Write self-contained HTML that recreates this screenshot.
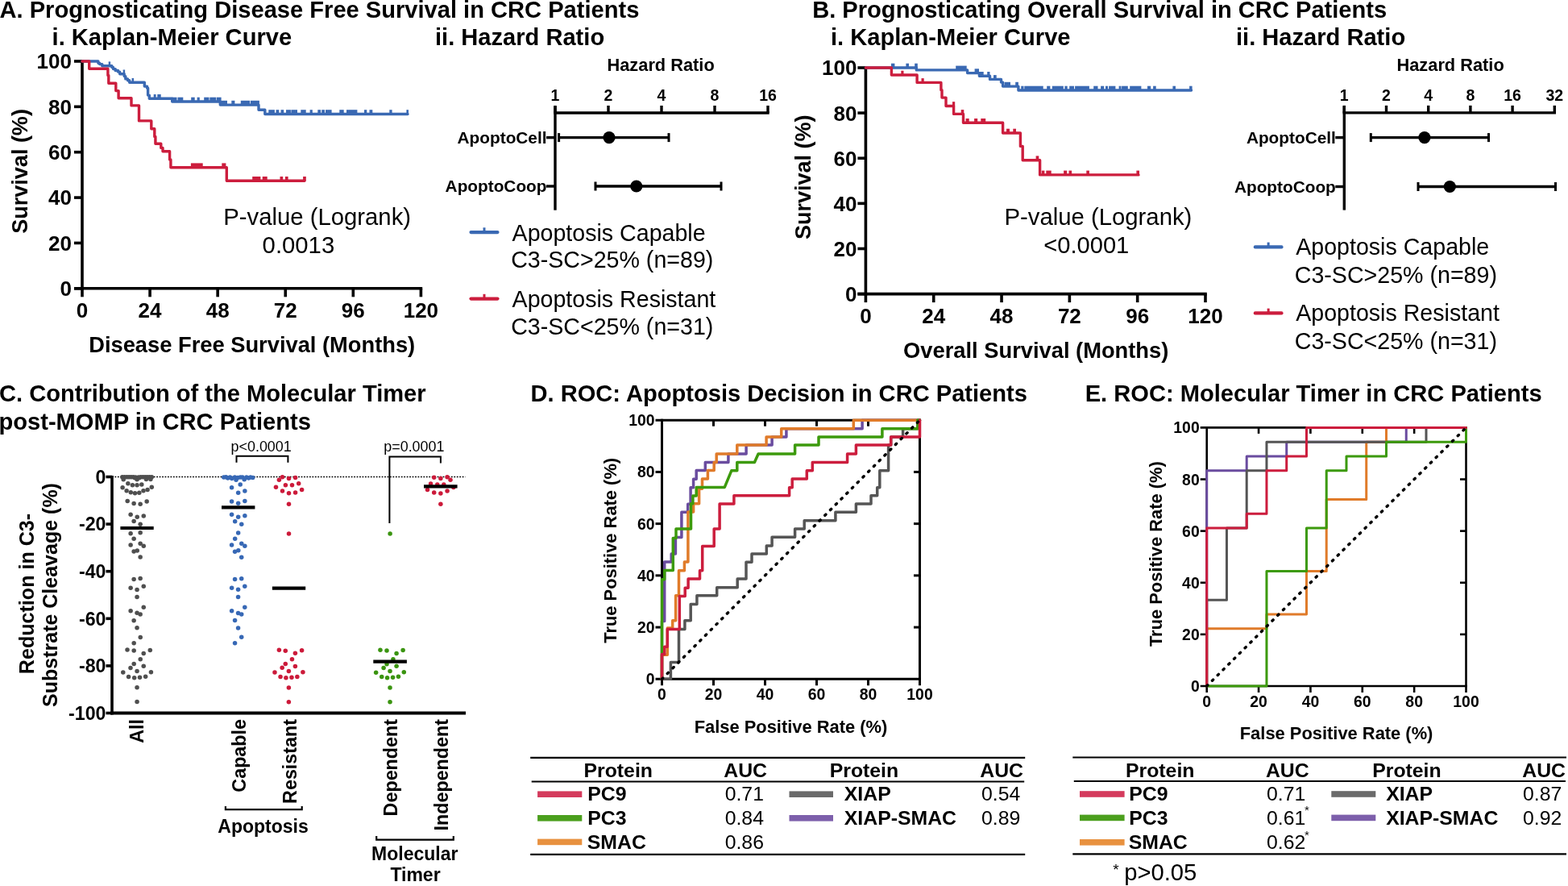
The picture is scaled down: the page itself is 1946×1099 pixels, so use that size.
<!DOCTYPE html>
<html><head><meta charset="utf-8"><title>Figure</title>
<style>html,body{margin:0;padding:0;background:#fff;}svg{display:block;}</style></head>
<body><svg width="1946" height="1099" viewBox="0 0 1946 1099" font-family="'Liberation Sans', Arial, Helvetica, sans-serif">
<rect width="1946" height="1099" fill="#fff"/>
<text x="-0.5" y="21.8" font-size="29.1" font-weight="bold" fill="#000">A. Prognosticating Disease Free Survival in CRC Patients</text>
<text x="64.6" y="56" font-size="29.1" font-weight="bold" fill="#000">i. Kaplan-Meier Curve</text>
<text x="540" y="56" font-size="29.1" font-weight="bold" fill="#000">ii. Hazard Ratio</text>
<text x="1008.2" y="21.8" font-size="29.1" font-weight="bold" fill="#000">B. Prognosticating Overall Survival in CRC Patients</text>
<text x="1031" y="56" font-size="29.1" font-weight="bold" fill="#000">i. Kaplan-Meier Curve</text>
<text x="1534" y="56" font-size="29.1" font-weight="bold" fill="#000">ii. Hazard Ratio</text>
<text x="-1" y="498.1" font-size="29.1" font-weight="bold" fill="#000">C. Contribution of the Molecular Timer</text>
<text x="-1.5" y="533.2" font-size="29.1" font-weight="bold" fill="#000">post-MOMP in CRC Patients</text>
<text x="658.5" y="498" font-size="29.1" font-weight="bold" fill="#000">D. ROC: Apoptosis Decision in CRC Patients</text>
<text x="1346.7" y="498" font-size="29.1" font-weight="bold" fill="#000">E. ROC: Molecular Timer in CRC Patients</text>
<line x1="102" y1="74.8" x2="102" y2="359.6" stroke="#000" stroke-width="3.6" stroke-linecap="butt"/>
<line x1="92" y1="357.8" x2="524.2" y2="357.8" stroke="#000" stroke-width="3.6" stroke-linecap="butt"/>
<line x1="92" y1="357.8" x2="102" y2="357.8" stroke="#000" stroke-width="3.6" stroke-linecap="butt"/>
<text x="89" y="367.2" font-size="26" font-weight="bold" text-anchor="end" fill="#000">0</text>
<line x1="92" y1="301.44" x2="102" y2="301.44" stroke="#000" stroke-width="3.6" stroke-linecap="butt"/>
<text x="89" y="310.84" font-size="26" font-weight="bold" text-anchor="end" fill="#000">20</text>
<line x1="92" y1="245.08" x2="102" y2="245.08" stroke="#000" stroke-width="3.6" stroke-linecap="butt"/>
<text x="89" y="254.48" font-size="26" font-weight="bold" text-anchor="end" fill="#000">40</text>
<line x1="92" y1="188.72" x2="102" y2="188.72" stroke="#000" stroke-width="3.6" stroke-linecap="butt"/>
<text x="89" y="198.12" font-size="26" font-weight="bold" text-anchor="end" fill="#000">60</text>
<line x1="92" y1="132.36" x2="102" y2="132.36" stroke="#000" stroke-width="3.6" stroke-linecap="butt"/>
<text x="89" y="141.76" font-size="26" font-weight="bold" text-anchor="end" fill="#000">80</text>
<line x1="92" y1="76" x2="102" y2="76" stroke="#000" stroke-width="3.6" stroke-linecap="butt"/>
<text x="89" y="85.4" font-size="26" font-weight="bold" text-anchor="end" fill="#000">100</text>
<line x1="102" y1="357.8" x2="102" y2="368.3" stroke="#000" stroke-width="3.6" stroke-linecap="butt"/>
<text x="102" y="393.9" font-size="26" font-weight="bold" text-anchor="middle" fill="#000">0</text>
<line x1="186.08" y1="357.8" x2="186.08" y2="368.3" stroke="#000" stroke-width="3.6" stroke-linecap="butt"/>
<text x="186.08" y="393.9" font-size="26" font-weight="bold" text-anchor="middle" fill="#000">24</text>
<line x1="270.16" y1="357.8" x2="270.16" y2="368.3" stroke="#000" stroke-width="3.6" stroke-linecap="butt"/>
<text x="270.16" y="393.9" font-size="26" font-weight="bold" text-anchor="middle" fill="#000">48</text>
<line x1="354.24" y1="357.8" x2="354.24" y2="368.3" stroke="#000" stroke-width="3.6" stroke-linecap="butt"/>
<text x="354.24" y="393.9" font-size="26" font-weight="bold" text-anchor="middle" fill="#000">72</text>
<line x1="438.32" y1="357.8" x2="438.32" y2="368.3" stroke="#000" stroke-width="3.6" stroke-linecap="butt"/>
<text x="438.32" y="393.9" font-size="26" font-weight="bold" text-anchor="middle" fill="#000">96</text>
<line x1="522.4" y1="357.8" x2="522.4" y2="368.3" stroke="#000" stroke-width="3.6" stroke-linecap="butt"/>
<text x="522.4" y="393.9" font-size="26" font-weight="bold" text-anchor="middle" fill="#000">120</text>
<text transform="translate(34.1 212.4) rotate(-90)" font-size="27" font-weight="bold" text-anchor="middle" fill="#000">Survival (%)</text>
<text x="312.7" y="436.9" font-size="27.3" font-weight="bold" text-anchor="middle" fill="#000">Disease Free Survival (Months)</text>
<polyline points="102,76 121.9,76 121.9,78.2 123.6,78.2 123.6,79.6 126.8,79.6 126.8,81.7 138.9,81.7 138.9,83.4 140.5,83.4 140.5,85.6 143.2,85.6 143.2,87.5 146.5,87.5 146.5,89.1 148.7,89.1 148.7,91.8 154.2,91.8 154.2,94.6 155.8,94.6 155.8,97.9 158.5,97.9 158.5,99.8 160.7,99.8 160.7,102.2 179.3,102.2 179.3,107.1 182.6,107.1 182.6,109.3 183.6,109.3 183.6,118.1 185.3,118.1 185.3,122.3 213.7,122.3 213.7,126 273.3,126 273.3,130.1 321,130.1 321,136.3 328.8,136.3 328.8,141.5 506,141.5" fill="none" stroke="#3a69b3" stroke-width="3.4" stroke-linejoin="round" stroke-linecap="round"/>
<rect x="134.65" y="76.4" width="2.5" height="5.3" fill="#3a69b3"/>
<rect x="152.65" y="86.5" width="2.5" height="5.3" fill="#3a69b3"/>
<rect x="163.55" y="96.9" width="2.5" height="5.3" fill="#3a69b3"/>
<rect x="190.7" y="117" width="2.9" height="5.3" fill="#3a69b3"/>
<rect x="195.3" y="117" width="4.4" height="5.3" fill="#3a69b3"/>
<rect x="213.7" y="120.7" width="5.8" height="5.3" fill="#3a69b3"/>
<rect x="220.5" y="120.7" width="6.8" height="5.3" fill="#3a69b3"/>
<rect x="237.2" y="120.7" width="4.5" height="5.3" fill="#3a69b3"/>
<rect x="244.6" y="120.7" width="3.2" height="5.3" fill="#3a69b3"/>
<rect x="253.2" y="120.7" width="6.3" height="5.3" fill="#3a69b3"/>
<rect x="260.3" y="120.7" width="7.7" height="5.3" fill="#3a69b3"/>
<rect x="268.6" y="120.7" width="6" height="5.3" fill="#3a69b3"/>
<rect x="274.6" y="124.8" width="7.4" height="5.3" fill="#3a69b3"/>
<rect x="287.3" y="124.8" width="4.1" height="5.3" fill="#3a69b3"/>
<rect x="298.8" y="124.8" width="11.2" height="5.3" fill="#3a69b3"/>
<rect x="310.8" y="124.8" width="11.1" height="5.3" fill="#3a69b3"/>
<rect x="333.3" y="136.2" width="7.6" height="5.3" fill="#3a69b3"/>
<rect x="342.5" y="136.2" width="3.8" height="5.3" fill="#3a69b3"/>
<rect x="348.5" y="136.2" width="3.7" height="5.3" fill="#3a69b3"/>
<rect x="355" y="136.2" width="5.9" height="5.3" fill="#3a69b3"/>
<rect x="361.4" y="136.2" width="7.6" height="5.3" fill="#3a69b3"/>
<rect x="373.3" y="136.2" width="6.4" height="5.3" fill="#3a69b3"/>
<rect x="384.6" y="136.2" width="3.2" height="5.3" fill="#3a69b3"/>
<rect x="394.3" y="136.2" width="3.8" height="5.3" fill="#3a69b3"/>
<rect x="399.2" y="136.2" width="3.8" height="5.3" fill="#3a69b3"/>
<rect x="404" y="136.2" width="7.6" height="5.3" fill="#3a69b3"/>
<rect x="421.3" y="136.2" width="5.4" height="5.3" fill="#3a69b3"/>
<rect x="430" y="136.2" width="13.4" height="5.3" fill="#3a69b3"/>
<rect x="452" y="136.2" width="3.3" height="5.3" fill="#3a69b3"/>
<rect x="458.5" y="136.2" width="3.8" height="5.3" fill="#3a69b3"/>
<rect x="483.3" y="136.2" width="3.3" height="5.3" fill="#3a69b3"/>
<rect x="504.4" y="136.2" width="2.6" height="5.3" fill="#3a69b3"/>
<polyline points="102,76 110.7,76 110.7,85.3 133.9,85.3 133.9,93.5 134.8,93.5 134.8,103.3 143.8,103.3 143.8,112.6 147.1,112.6 147.1,121.7 163,121.7 163,130.9 172.5,130.9 172.5,149.9 187.8,149.9 187.8,159.7 191.8,159.7 191.8,169.5 192.9,169.5 192.9,178.3 199.8,178.3 199.8,183.4 202,183.4 202,187.7 210.6,187.7 210.6,198 211.9,198 211.9,207.7 281.3,207.7 281.3,224.3 378,224.3" fill="none" stroke="#cc1d3d" stroke-width="3.4" stroke-linejoin="round" stroke-linecap="round"/>
<rect x="236.9" y="202.4" width="14.8" height="5.3" fill="#cc1d3d"/>
<rect x="275.3" y="202.4" width="5.1" height="5.3" fill="#cc1d3d"/>
<rect x="313.2" y="219" width="10.2" height="5.3" fill="#cc1d3d"/>
<rect x="325.7" y="219" width="6" height="5.3" fill="#cc1d3d"/>
<rect x="347.5" y="219" width="3.7" height="5.3" fill="#cc1d3d"/>
<rect x="353.9" y="219" width="3.7" height="5.3" fill="#cc1d3d"/>
<rect x="376.1" y="219" width="3.7" height="5.3" fill="#cc1d3d"/>
<text x="277.2" y="279.1" font-size="29.3" fill="#000">P-value (Logrank)</text>
<text x="325.6" y="313.8" font-size="29.3" fill="#000">0.0013</text>
<line x1="1074.4" y1="82.8" x2="1074.4" y2="366.4" stroke="#000" stroke-width="3.6" stroke-linecap="butt"/>
<line x1="1064.4" y1="364.6" x2="1497.8" y2="364.6" stroke="#000" stroke-width="3.6" stroke-linecap="butt"/>
<line x1="1064.4" y1="364.6" x2="1074.4" y2="364.6" stroke="#000" stroke-width="3.6" stroke-linecap="butt"/>
<text x="1063.5" y="374" font-size="26" font-weight="bold" text-anchor="end" fill="#000">0</text>
<line x1="1064.4" y1="308.48" x2="1074.4" y2="308.48" stroke="#000" stroke-width="3.6" stroke-linecap="butt"/>
<text x="1063.5" y="317.88" font-size="26" font-weight="bold" text-anchor="end" fill="#000">20</text>
<line x1="1064.4" y1="252.36" x2="1074.4" y2="252.36" stroke="#000" stroke-width="3.6" stroke-linecap="butt"/>
<text x="1063.5" y="261.76" font-size="26" font-weight="bold" text-anchor="end" fill="#000">40</text>
<line x1="1064.4" y1="196.24" x2="1074.4" y2="196.24" stroke="#000" stroke-width="3.6" stroke-linecap="butt"/>
<text x="1063.5" y="205.64" font-size="26" font-weight="bold" text-anchor="end" fill="#000">60</text>
<line x1="1064.4" y1="140.12" x2="1074.4" y2="140.12" stroke="#000" stroke-width="3.6" stroke-linecap="butt"/>
<text x="1063.5" y="149.52" font-size="26" font-weight="bold" text-anchor="end" fill="#000">80</text>
<line x1="1064.4" y1="84" x2="1074.4" y2="84" stroke="#000" stroke-width="3.6" stroke-linecap="butt"/>
<text x="1063.5" y="93.4" font-size="26" font-weight="bold" text-anchor="end" fill="#000">100</text>
<line x1="1074.4" y1="364.6" x2="1074.4" y2="375.1" stroke="#000" stroke-width="3.6" stroke-linecap="butt"/>
<text x="1074.4" y="401.2" font-size="26" font-weight="bold" text-anchor="middle" fill="#000">0</text>
<line x1="1158.72" y1="364.6" x2="1158.72" y2="375.1" stroke="#000" stroke-width="3.6" stroke-linecap="butt"/>
<text x="1158.72" y="401.2" font-size="26" font-weight="bold" text-anchor="middle" fill="#000">24</text>
<line x1="1243.04" y1="364.6" x2="1243.04" y2="375.1" stroke="#000" stroke-width="3.6" stroke-linecap="butt"/>
<text x="1243.04" y="401.2" font-size="26" font-weight="bold" text-anchor="middle" fill="#000">48</text>
<line x1="1327.36" y1="364.6" x2="1327.36" y2="375.1" stroke="#000" stroke-width="3.6" stroke-linecap="butt"/>
<text x="1327.36" y="401.2" font-size="26" font-weight="bold" text-anchor="middle" fill="#000">72</text>
<line x1="1411.68" y1="364.6" x2="1411.68" y2="375.1" stroke="#000" stroke-width="3.6" stroke-linecap="butt"/>
<text x="1411.68" y="401.2" font-size="26" font-weight="bold" text-anchor="middle" fill="#000">96</text>
<line x1="1496" y1="364.6" x2="1496" y2="375.1" stroke="#000" stroke-width="3.6" stroke-linecap="butt"/>
<text x="1496" y="401.2" font-size="26" font-weight="bold" text-anchor="middle" fill="#000">120</text>
<text transform="translate(1005.7 219.8) rotate(-90)" font-size="27" font-weight="bold" text-anchor="middle" fill="#000">Survival (%)</text>
<text x="1285.7" y="444.1" font-size="27.3" font-weight="bold" text-anchor="middle" fill="#000">Overall Survival (Months)</text>
<polyline points="1074.4,84 1137.3,84 1137.3,86.9 1200.6,86.9 1200.6,90.6 1215.4,90.6 1215.4,94.3 1228.5,94.3 1228.5,98.4 1242.5,98.4 1242.5,102.1 1244.6,102.1 1244.6,107.1 1263.9,107.1 1263.9,112 1478.5,112" fill="none" stroke="#3a69b3" stroke-width="3.4" stroke-linejoin="round" stroke-linecap="round"/>
<rect x="1106" y="78.7" width="4.4" height="5.3" fill="#3a69b3"/>
<rect x="1124.4" y="78.7" width="3.6" height="5.3" fill="#3a69b3"/>
<rect x="1135.2" y="78.7" width="3.6" height="5.3" fill="#3a69b3"/>
<rect x="1186.2" y="81.6" width="13.5" height="5.3" fill="#3a69b3"/>
<rect x="1209.6" y="85.3" width="5.4" height="5.3" fill="#3a69b3"/>
<rect x="1215.4" y="89" width="5.3" height="5.3" fill="#3a69b3"/>
<rect x="1225.2" y="89" width="3.3" height="5.3" fill="#3a69b3"/>
<rect x="1233" y="93.1" width="3.7" height="5.3" fill="#3a69b3"/>
<rect x="1246.6" y="101.8" width="7.4" height="5.3" fill="#3a69b3"/>
<rect x="1260.2" y="101.8" width="3.7" height="5.3" fill="#3a69b3"/>
<rect x="1267.2" y="106.7" width="3.3" height="5.3" fill="#3a69b3"/>
<rect x="1271.3" y="106.7" width="23.4" height="5.3" fill="#3a69b3"/>
<rect x="1299.2" y="106.7" width="4.2" height="5.3" fill="#3a69b3"/>
<rect x="1305.8" y="106.7" width="14" height="5.3" fill="#3a69b3"/>
<rect x="1321.4" y="106.7" width="3.3" height="5.3" fill="#3a69b3"/>
<rect x="1327.2" y="106.7" width="5.8" height="5.3" fill="#3a69b3"/>
<rect x="1334.1" y="106.7" width="17.8" height="5.3" fill="#3a69b3"/>
<rect x="1357.2" y="106.7" width="5.3" height="5.3" fill="#3a69b3"/>
<rect x="1366.1" y="106.7" width="4.1" height="5.3" fill="#3a69b3"/>
<rect x="1372" y="106.7" width="3" height="5.3" fill="#3a69b3"/>
<rect x="1376.1" y="106.7" width="8.3" height="5.3" fill="#3a69b3"/>
<rect x="1388.6" y="106.7" width="2.9" height="5.3" fill="#3a69b3"/>
<rect x="1392.1" y="106.7" width="7.7" height="5.3" fill="#3a69b3"/>
<rect x="1402.2" y="106.7" width="14.2" height="5.3" fill="#3a69b3"/>
<rect x="1424" y="106.7" width="4.2" height="5.3" fill="#3a69b3"/>
<rect x="1431.1" y="106.7" width="3.6" height="5.3" fill="#3a69b3"/>
<rect x="1455.4" y="106.7" width="3.6" height="5.3" fill="#3a69b3"/>
<rect x="1476.1" y="106.7" width="3.5" height="5.3" fill="#3a69b3"/>
<polyline points="1074.4,84 1106.4,84 1106.4,93 1138.1,93 1138.1,102.4 1167.9,102.4 1167.9,111.7 1169,111.7 1169,121.1 1174,121.1 1174,131.5 1183.6,131.5 1183.6,141.4 1195.5,141.4 1195.5,152.3 1244.6,152.3 1244.6,165 1266.4,165 1266.4,181.4 1269.2,181.4 1269.2,198.7 1290.6,198.7 1290.6,216.9 1413,216.9" fill="none" stroke="#cc1d3d" stroke-width="3.4" stroke-linejoin="round" stroke-linecap="round"/>
<rect x="1118.3" y="87.7" width="3.2" height="5.3" fill="#cc1d3d"/>
<rect x="1143.5" y="97.1" width="3.2" height="5.3" fill="#cc1d3d"/>
<rect x="1182" y="126.2" width="3.2" height="5.3" fill="#cc1d3d"/>
<rect x="1192.7" y="136.1" width="3.6" height="5.3" fill="#cc1d3d"/>
<rect x="1198.6" y="147" width="4.1" height="5.3" fill="#cc1d3d"/>
<rect x="1209.1" y="147" width="4.1" height="5.3" fill="#cc1d3d"/>
<rect x="1217.3" y="147" width="5.9" height="5.3" fill="#cc1d3d"/>
<rect x="1249" y="159.7" width="4" height="5.3" fill="#cc1d3d"/>
<rect x="1257.3" y="159.7" width="3.7" height="5.3" fill="#cc1d3d"/>
<rect x="1285.6" y="193.4" width="3.7" height="5.3" fill="#cc1d3d"/>
<rect x="1292.8" y="211.6" width="3.6" height="5.3" fill="#cc1d3d"/>
<rect x="1298.3" y="211.6" width="6.4" height="5.3" fill="#cc1d3d"/>
<rect x="1320.1" y="211.6" width="4.1" height="5.3" fill="#cc1d3d"/>
<rect x="1326.5" y="211.6" width="3.6" height="5.3" fill="#cc1d3d"/>
<rect x="1348.3" y="211.6" width="3.6" height="5.3" fill="#cc1d3d"/>
<rect x="1410.4" y="211.6" width="3.6" height="5.3" fill="#cc1d3d"/>
<text x="1246.5" y="279.1" font-size="29.3" fill="#000">P-value (Logrank)</text>
<text x="1295.3" y="313.8" font-size="29.1" fill="#000">&lt;0.0001</text>
<text x="753.5" y="88.3" font-size="21.8" font-weight="bold" fill="#000">Hazard Ratio</text>
<line x1="689" y1="131.5" x2="689" y2="260.7" stroke="#000" stroke-width="3.4" stroke-linecap="butt"/>
<line x1="687.3" y1="140" x2="954.7" y2="140" stroke="#000" stroke-width="3.4" stroke-linecap="butt"/>
<line x1="689" y1="140" x2="689" y2="131" stroke="#000" stroke-width="3.4" stroke-linecap="butt"/>
<text x="689" y="125" font-size="19.5" font-weight="bold" text-anchor="middle" fill="#000">1</text>
<line x1="755" y1="140" x2="755" y2="131" stroke="#000" stroke-width="3.4" stroke-linecap="butt"/>
<text x="755" y="125" font-size="19.5" font-weight="bold" text-anchor="middle" fill="#000">2</text>
<line x1="821" y1="140" x2="821" y2="131" stroke="#000" stroke-width="3.4" stroke-linecap="butt"/>
<text x="821" y="125" font-size="19.5" font-weight="bold" text-anchor="middle" fill="#000">4</text>
<line x1="887" y1="140" x2="887" y2="131" stroke="#000" stroke-width="3.4" stroke-linecap="butt"/>
<text x="887" y="125" font-size="19.5" font-weight="bold" text-anchor="middle" fill="#000">8</text>
<line x1="953" y1="140" x2="953" y2="131" stroke="#000" stroke-width="3.4" stroke-linecap="butt"/>
<text x="953" y="125" font-size="19.5" font-weight="bold" text-anchor="middle" fill="#000">16</text>
<line x1="678" y1="170.6" x2="689" y2="170.6" stroke="#000" stroke-width="3.4" stroke-linecap="butt"/>
<text x="678.5" y="178" font-size="20.8" font-weight="bold" text-anchor="end" fill="#000">ApoptoCell</text>
<line x1="693.6" y1="170.6" x2="830" y2="170.6" stroke="#000" stroke-width="3.4" stroke-linecap="butt"/>
<line x1="693.6" y1="165.1" x2="693.6" y2="176.1" stroke="#000" stroke-width="3" stroke-linecap="butt"/>
<line x1="830" y1="165.1" x2="830" y2="176.1" stroke="#000" stroke-width="3" stroke-linecap="butt"/>
<circle cx="756" cy="170.6" r="7.6" fill="#000"/>
<line x1="678" y1="231" x2="689" y2="231" stroke="#000" stroke-width="3.4" stroke-linecap="butt"/>
<text x="678.5" y="238.4" font-size="20.8" font-weight="bold" text-anchor="end" fill="#000">ApoptoCoop</text>
<line x1="739" y1="231" x2="895" y2="231" stroke="#000" stroke-width="3.4" stroke-linecap="butt"/>
<line x1="739" y1="225.5" x2="739" y2="236.5" stroke="#000" stroke-width="3" stroke-linecap="butt"/>
<line x1="895" y1="225.5" x2="895" y2="236.5" stroke="#000" stroke-width="3" stroke-linecap="butt"/>
<circle cx="789.8" cy="231" r="7.6" fill="#000"/>
<text x="1733.5" y="88.3" font-size="21.8" font-weight="bold" fill="#000">Hazard Ratio</text>
<line x1="1668.3" y1="131.4" x2="1668.3" y2="260.6" stroke="#000" stroke-width="3.4" stroke-linecap="butt"/>
<line x1="1666.6" y1="139.9" x2="1931" y2="139.9" stroke="#000" stroke-width="3.4" stroke-linecap="butt"/>
<line x1="1668.3" y1="139.9" x2="1668.3" y2="130.9" stroke="#000" stroke-width="3.4" stroke-linecap="butt"/>
<text x="1668.3" y="125" font-size="19.5" font-weight="bold" text-anchor="middle" fill="#000">1</text>
<line x1="1720.5" y1="139.9" x2="1720.5" y2="130.9" stroke="#000" stroke-width="3.4" stroke-linecap="butt"/>
<text x="1720.5" y="125" font-size="19.5" font-weight="bold" text-anchor="middle" fill="#000">2</text>
<line x1="1772.7" y1="139.9" x2="1772.7" y2="130.9" stroke="#000" stroke-width="3.4" stroke-linecap="butt"/>
<text x="1772.7" y="125" font-size="19.5" font-weight="bold" text-anchor="middle" fill="#000">4</text>
<line x1="1824.9" y1="139.9" x2="1824.9" y2="130.9" stroke="#000" stroke-width="3.4" stroke-linecap="butt"/>
<text x="1824.9" y="125" font-size="19.5" font-weight="bold" text-anchor="middle" fill="#000">8</text>
<line x1="1877.1" y1="139.9" x2="1877.1" y2="130.9" stroke="#000" stroke-width="3.4" stroke-linecap="butt"/>
<text x="1877.1" y="125" font-size="19.5" font-weight="bold" text-anchor="middle" fill="#000">16</text>
<line x1="1929.3" y1="139.9" x2="1929.3" y2="130.9" stroke="#000" stroke-width="3.4" stroke-linecap="butt"/>
<text x="1929.3" y="125" font-size="19.5" font-weight="bold" text-anchor="middle" fill="#000">32</text>
<line x1="1657.3" y1="170.6" x2="1668.3" y2="170.6" stroke="#000" stroke-width="3.4" stroke-linecap="butt"/>
<text x="1657.8" y="178" font-size="20.8" font-weight="bold" text-anchor="end" fill="#000">ApoptoCell</text>
<line x1="1701.3" y1="170.6" x2="1847.5" y2="170.6" stroke="#000" stroke-width="3.4" stroke-linecap="butt"/>
<line x1="1701.3" y1="165.1" x2="1701.3" y2="176.1" stroke="#000" stroke-width="3" stroke-linecap="butt"/>
<line x1="1847.5" y1="165.1" x2="1847.5" y2="176.1" stroke="#000" stroke-width="3" stroke-linecap="butt"/>
<circle cx="1767.9" cy="170.6" r="7.6" fill="#000"/>
<line x1="1657.3" y1="231.5" x2="1668.3" y2="231.5" stroke="#000" stroke-width="3.4" stroke-linecap="butt"/>
<text x="1657.8" y="238.9" font-size="20.8" font-weight="bold" text-anchor="end" fill="#000">ApoptoCoop</text>
<line x1="1760" y1="231.5" x2="1930.5" y2="231.5" stroke="#000" stroke-width="3.4" stroke-linecap="butt"/>
<line x1="1760" y1="226" x2="1760" y2="237" stroke="#000" stroke-width="3" stroke-linecap="butt"/>
<line x1="1930.5" y1="226" x2="1930.5" y2="237" stroke="#000" stroke-width="3" stroke-linecap="butt"/>
<circle cx="1799.3" cy="231.5" r="7.6" fill="#000"/>
<line x1="584.5" y1="288.1" x2="617.5" y2="288.1" stroke="#3a69b3" stroke-width="4.2" stroke-linecap="round"/>
<line x1="601" y1="288.1" x2="601" y2="282.3" stroke="#3a69b3" stroke-width="3" stroke-linecap="butt"/>
<line x1="584.5" y1="370.6" x2="617.5" y2="370.6" stroke="#cc1d3d" stroke-width="4.2" stroke-linecap="round"/>
<line x1="601" y1="370.6" x2="601" y2="364.8" stroke="#cc1d3d" stroke-width="3" stroke-linecap="butt"/>
<text x="635.6" y="298.5" font-size="28.6" fill="#000">Apoptosis Capable</text>
<text x="634.2" y="332.1" font-size="28.6" fill="#000">C3-SC&gt;25% (n=89)</text>
<text x="635.6" y="380.6" font-size="28.6" fill="#000">Apoptosis Resistant</text>
<text x="634.2" y="414.5" font-size="28.6" fill="#000">C3-SC&lt;25% (n=31)</text>
<line x1="1557.8" y1="306.4" x2="1590.5" y2="306.4" stroke="#3a69b3" stroke-width="4.2" stroke-linecap="round"/>
<line x1="1574.15" y1="306.4" x2="1574.15" y2="300.6" stroke="#3a69b3" stroke-width="3" stroke-linecap="butt"/>
<line x1="1557.8" y1="388.4" x2="1590.5" y2="388.4" stroke="#cc1d3d" stroke-width="4.2" stroke-linecap="round"/>
<line x1="1574.15" y1="388.4" x2="1574.15" y2="382.6" stroke="#cc1d3d" stroke-width="3" stroke-linecap="butt"/>
<text x="1608.2" y="315.9" font-size="28.6" fill="#000">Apoptosis Capable</text>
<text x="1606.8" y="350.5" font-size="28.6" fill="#000">C3-SC&gt;25% (n=89)</text>
<text x="1608.2" y="398" font-size="28.6" fill="#000">Apoptosis Resistant</text>
<text x="1606.8" y="432.8" font-size="28.6" fill="#000">C3-SC&lt;25% (n=31)</text>
<line x1="139" y1="591.6" x2="577.5" y2="591.6" stroke="#000" stroke-width="1.5" stroke-linecap="butt" stroke-dasharray="1.8 1.65"/>
<line x1="139" y1="590" x2="139" y2="886.5" stroke="#000" stroke-width="3.6" stroke-linecap="butt"/>
<line x1="137.2" y1="884.5" x2="578" y2="884.5" stroke="#000" stroke-width="4" stroke-linecap="butt"/>
<line x1="131.5" y1="591.5" x2="139" y2="591.5" stroke="#000" stroke-width="3.6" stroke-linecap="butt"/>
<text x="131.5" y="599.8" font-size="23.2" font-weight="bold" text-anchor="end" fill="#000">0</text>
<line x1="131.5" y1="650.1" x2="139" y2="650.1" stroke="#000" stroke-width="3.6" stroke-linecap="butt"/>
<text x="131.5" y="658.4" font-size="23.2" font-weight="bold" text-anchor="end" fill="#000">-20</text>
<line x1="131.5" y1="708.7" x2="139" y2="708.7" stroke="#000" stroke-width="3.6" stroke-linecap="butt"/>
<text x="131.5" y="717" font-size="23.2" font-weight="bold" text-anchor="end" fill="#000">-40</text>
<line x1="131.5" y1="767.3" x2="139" y2="767.3" stroke="#000" stroke-width="3.6" stroke-linecap="butt"/>
<text x="131.5" y="775.6" font-size="23.2" font-weight="bold" text-anchor="end" fill="#000">-60</text>
<line x1="131.5" y1="825.9" x2="139" y2="825.9" stroke="#000" stroke-width="3.6" stroke-linecap="butt"/>
<text x="131.5" y="834.2" font-size="23.2" font-weight="bold" text-anchor="end" fill="#000">-80</text>
<line x1="131.5" y1="884.5" x2="139" y2="884.5" stroke="#000" stroke-width="3.6" stroke-linecap="butt"/>
<text x="131.5" y="892.8" font-size="23.2" font-weight="bold" text-anchor="end" fill="#000">-100</text>
<circle cx="151.84" cy="591.65" r="2.75" fill="#4f4f4f"/>
<circle cx="154.57" cy="591.65" r="2.75" fill="#4f4f4f"/>
<circle cx="157.3" cy="591.65" r="2.75" fill="#4f4f4f"/>
<circle cx="160.04" cy="591.65" r="2.75" fill="#4f4f4f"/>
<circle cx="162.77" cy="591.65" r="2.75" fill="#4f4f4f"/>
<circle cx="165.5" cy="591.65" r="2.75" fill="#4f4f4f"/>
<circle cx="168.23" cy="591.93" r="2.75" fill="#4f4f4f"/>
<circle cx="171.88" cy="591.93" r="2.75" fill="#4f4f4f"/>
<circle cx="174.61" cy="591.65" r="2.75" fill="#4f4f4f"/>
<circle cx="177.34" cy="591.65" r="2.75" fill="#4f4f4f"/>
<circle cx="180.07" cy="591.65" r="2.75" fill="#4f4f4f"/>
<circle cx="182.81" cy="591.65" r="2.75" fill="#4f4f4f"/>
<circle cx="185.54" cy="591.65" r="2.75" fill="#4f4f4f"/>
<circle cx="188.27" cy="591.65" r="2.75" fill="#4f4f4f"/>
<circle cx="153.21" cy="594.66" r="2.75" fill="#4f4f4f"/>
<circle cx="170.05" cy="594.66" r="2.75" fill="#4f4f4f"/>
<circle cx="181.44" cy="594.38" r="2.75" fill="#4f4f4f"/>
<circle cx="186.9" cy="594.38" r="2.75" fill="#4f4f4f"/>
<circle cx="167.32" cy="592.65" r="2.75" fill="#4f4f4f"/>
<circle cx="172.79" cy="592.65" r="2.75" fill="#4f4f4f"/>
<circle cx="158.85" cy="599.85" r="2.75" fill="#4f4f4f"/>
<circle cx="164.41" cy="601.67" r="2.75" fill="#4f4f4f"/>
<circle cx="170.05" cy="601.67" r="2.75" fill="#4f4f4f"/>
<circle cx="175.79" cy="600.94" r="2.75" fill="#4f4f4f"/>
<circle cx="152.11" cy="604.68" r="2.75" fill="#4f4f4f"/>
<circle cx="188.27" cy="604.13" r="2.75" fill="#4f4f4f"/>
<circle cx="157.12" cy="608.77" r="2.75" fill="#4f4f4f"/>
<circle cx="162.31" cy="610.78" r="2.75" fill="#4f4f4f"/>
<circle cx="167.5" cy="611.69" r="2.75" fill="#4f4f4f"/>
<circle cx="172.79" cy="611.23" r="2.75" fill="#4f4f4f"/>
<circle cx="177.98" cy="608.77" r="2.75" fill="#4f4f4f"/>
<circle cx="183.08" cy="607.41" r="2.75" fill="#4f4f4f"/>
<circle cx="158.21" cy="621.52" r="2.75" fill="#4f4f4f"/>
<circle cx="166.14" cy="624.44" r="2.75" fill="#4f4f4f"/>
<circle cx="174.15" cy="625.35" r="2.75" fill="#4f4f4f"/>
<circle cx="182.17" cy="621.98" r="2.75" fill="#4f4f4f"/>
<circle cx="162.13" cy="638.28" r="2.75" fill="#4f4f4f"/>
<circle cx="170.24" cy="641.29" r="2.75" fill="#4f4f4f"/>
<circle cx="178.25" cy="639.92" r="2.75" fill="#4f4f4f"/>
<circle cx="166.14" cy="646.57" r="2.75" fill="#4f4f4f"/>
<circle cx="174.15" cy="650.21" r="2.75" fill="#4f4f4f"/>
<circle cx="162.13" cy="661.78" r="2.75" fill="#4f4f4f"/>
<circle cx="174.15" cy="660.87" r="2.75" fill="#4f4f4f"/>
<circle cx="166.14" cy="668.34" r="2.75" fill="#4f4f4f"/>
<circle cx="162.13" cy="676.08" r="2.75" fill="#4f4f4f"/>
<circle cx="174.15" cy="674.35" r="2.75" fill="#4f4f4f"/>
<circle cx="178.25" cy="677.26" r="2.75" fill="#4f4f4f"/>
<circle cx="166.14" cy="684.1" r="2.75" fill="#4f4f4f"/>
<circle cx="170.24" cy="682.91" r="2.75" fill="#4f4f4f"/>
<circle cx="174.15" cy="691.11" r="2.75" fill="#4f4f4f"/>
<circle cx="166.14" cy="718.43" r="2.75" fill="#4f4f4f"/>
<circle cx="174.15" cy="717.61" r="2.75" fill="#4f4f4f"/>
<circle cx="162.13" cy="729.18" r="2.75" fill="#4f4f4f"/>
<circle cx="170.05" cy="731.46" r="2.75" fill="#4f4f4f"/>
<circle cx="178.25" cy="727.36" r="2.75" fill="#4f4f4f"/>
<circle cx="170.05" cy="740.56" r="2.75" fill="#4f4f4f"/>
<circle cx="178.25" cy="753.13" r="2.75" fill="#4f4f4f"/>
<circle cx="162.13" cy="757.87" r="2.75" fill="#4f4f4f"/>
<circle cx="170.05" cy="760.33" r="2.75" fill="#4f4f4f"/>
<circle cx="174.15" cy="761.97" r="2.75" fill="#4f4f4f"/>
<circle cx="166.14" cy="769.71" r="2.75" fill="#4f4f4f"/>
<circle cx="170.05" cy="778.82" r="2.75" fill="#4f4f4f"/>
<circle cx="174.24" cy="790.39" r="2.75" fill="#4f4f4f"/>
<circle cx="166.18" cy="797.83" r="2.75" fill="#4f4f4f"/>
<circle cx="158.01" cy="806.1" r="2.75" fill="#4f4f4f"/>
<circle cx="166.18" cy="806.94" r="2.75" fill="#4f4f4f"/>
<circle cx="186.28" cy="806.41" r="2.75" fill="#4f4f4f"/>
<circle cx="178.22" cy="810.39" r="2.75" fill="#4f4f4f"/>
<circle cx="174.24" cy="817.72" r="2.75" fill="#4f4f4f"/>
<circle cx="166.18" cy="823.48" r="2.75" fill="#4f4f4f"/>
<circle cx="178.22" cy="826.31" r="2.75" fill="#4f4f4f"/>
<circle cx="161.99" cy="828.4" r="2.75" fill="#4f4f4f"/>
<circle cx="170.05" cy="832.38" r="2.75" fill="#4f4f4f"/>
<circle cx="152.77" cy="833.95" r="2.75" fill="#4f4f4f"/>
<circle cx="187.43" cy="833.64" r="2.75" fill="#4f4f4f"/>
<circle cx="159.58" cy="839.4" r="2.75" fill="#4f4f4f"/>
<circle cx="166.7" cy="840.76" r="2.75" fill="#4f4f4f"/>
<circle cx="173.51" cy="840.13" r="2.75" fill="#4f4f4f"/>
<circle cx="180.63" cy="839.19" r="2.75" fill="#4f4f4f"/>
<circle cx="170.05" cy="852.7" r="2.75" fill="#4f4f4f"/>
<circle cx="170.05" cy="870.5" r="2.75" fill="#4f4f4f"/>
<circle cx="277.74" cy="592.1" r="2.75" fill="#3768b5"/>
<circle cx="280.47" cy="591.64" r="2.75" fill="#3768b5"/>
<circle cx="282.74" cy="593.01" r="2.75" fill="#3768b5"/>
<circle cx="285.47" cy="592.1" r="2.75" fill="#3768b5"/>
<circle cx="287.75" cy="593.46" r="2.75" fill="#3768b5"/>
<circle cx="291.39" cy="592.1" r="2.75" fill="#3768b5"/>
<circle cx="293.03" cy="595.28" r="2.75" fill="#3768b5"/>
<circle cx="295.03" cy="592.55" r="2.75" fill="#3768b5"/>
<circle cx="298.21" cy="592.1" r="2.75" fill="#3768b5"/>
<circle cx="300.94" cy="592.1" r="2.75" fill="#3768b5"/>
<circle cx="303.22" cy="594.83" r="2.75" fill="#3768b5"/>
<circle cx="305.95" cy="592.1" r="2.75" fill="#3768b5"/>
<circle cx="308.49" cy="593.01" r="2.75" fill="#3768b5"/>
<circle cx="310.95" cy="592.1" r="2.75" fill="#3768b5"/>
<circle cx="313.68" cy="592.55" r="2.75" fill="#3768b5"/>
<circle cx="298.21" cy="600.93" r="2.75" fill="#3768b5"/>
<circle cx="287.57" cy="604.66" r="2.75" fill="#3768b5"/>
<circle cx="295.66" cy="611.21" r="2.75" fill="#3768b5"/>
<circle cx="303.85" cy="608.93" r="2.75" fill="#3768b5"/>
<circle cx="287.57" cy="621.94" r="2.75" fill="#3768b5"/>
<circle cx="295.66" cy="624.22" r="2.75" fill="#3768b5"/>
<circle cx="303.85" cy="621.49" r="2.75" fill="#3768b5"/>
<circle cx="287.57" cy="638.23" r="2.75" fill="#3768b5"/>
<circle cx="295.66" cy="641.23" r="2.75" fill="#3768b5"/>
<circle cx="303.85" cy="639.87" r="2.75" fill="#3768b5"/>
<circle cx="291.66" cy="646.69" r="2.75" fill="#3768b5"/>
<circle cx="299.76" cy="650.33" r="2.75" fill="#3768b5"/>
<circle cx="295.66" cy="660.98" r="2.75" fill="#3768b5"/>
<circle cx="291.66" cy="668.26" r="2.75" fill="#3768b5"/>
<circle cx="287.57" cy="676.08" r="2.75" fill="#3768b5"/>
<circle cx="299.76" cy="674.26" r="2.75" fill="#3768b5"/>
<circle cx="303.85" cy="677.36" r="2.75" fill="#3768b5"/>
<circle cx="291.54" cy="684.37" r="2.75" fill="#3768b5"/>
<circle cx="295.8" cy="682.73" r="2.75" fill="#3768b5"/>
<circle cx="299.73" cy="691.14" r="2.75" fill="#3768b5"/>
<circle cx="291.54" cy="718.44" r="2.75" fill="#3768b5"/>
<circle cx="299.73" cy="717.68" r="2.75" fill="#3768b5"/>
<circle cx="287.61" cy="729.37" r="2.75" fill="#3768b5"/>
<circle cx="295.58" cy="731.33" r="2.75" fill="#3768b5"/>
<circle cx="303.77" cy="727.29" r="2.75" fill="#3768b5"/>
<circle cx="295.58" cy="740.62" r="2.75" fill="#3768b5"/>
<circle cx="303.77" cy="753.18" r="2.75" fill="#3768b5"/>
<circle cx="287.61" cy="757.87" r="2.75" fill="#3768b5"/>
<circle cx="295.58" cy="760.49" r="2.75" fill="#3768b5"/>
<circle cx="299.73" cy="761.91" r="2.75" fill="#3768b5"/>
<circle cx="291.54" cy="769.56" r="2.75" fill="#3768b5"/>
<circle cx="295.58" cy="779.06" r="2.75" fill="#3768b5"/>
<circle cx="299.73" cy="790.31" r="2.75" fill="#3768b5"/>
<circle cx="291.54" cy="797.74" r="2.75" fill="#3768b5"/>
<circle cx="350.48" cy="591.65" r="2.75" fill="#cc1a3a"/>
<circle cx="358.49" cy="593.47" r="2.75" fill="#cc1a3a"/>
<circle cx="366.59" cy="592.38" r="2.75" fill="#cc1a3a"/>
<circle cx="346.38" cy="595.29" r="2.75" fill="#cc1a3a"/>
<circle cx="354.39" cy="601.66" r="2.75" fill="#cc1a3a"/>
<circle cx="362.5" cy="601.66" r="2.75" fill="#cc1a3a"/>
<circle cx="370.69" cy="599.84" r="2.75" fill="#cc1a3a"/>
<circle cx="342.47" cy="604.21" r="2.75" fill="#cc1a3a"/>
<circle cx="350.48" cy="608.94" r="2.75" fill="#cc1a3a"/>
<circle cx="358.49" cy="611.67" r="2.75" fill="#cc1a3a"/>
<circle cx="366.59" cy="610.94" r="2.75" fill="#cc1a3a"/>
<circle cx="374.6" cy="607.39" r="2.75" fill="#cc1a3a"/>
<circle cx="358.49" cy="625.14" r="2.75" fill="#cc1a3a"/>
<circle cx="358.49" cy="661.92" r="2.75" fill="#cc1a3a"/>
<circle cx="346.39" cy="806.23" r="2.75" fill="#cc1a3a"/>
<circle cx="354.26" cy="807.21" r="2.75" fill="#cc1a3a"/>
<circle cx="374.59" cy="806.72" r="2.75" fill="#cc1a3a"/>
<circle cx="366.39" cy="810.33" r="2.75" fill="#cc1a3a"/>
<circle cx="362.46" cy="817.7" r="2.75" fill="#cc1a3a"/>
<circle cx="354.26" cy="823.44" r="2.75" fill="#cc1a3a"/>
<circle cx="350.16" cy="828.36" r="2.75" fill="#cc1a3a"/>
<circle cx="366.39" cy="826.39" r="2.75" fill="#cc1a3a"/>
<circle cx="358.36" cy="832.46" r="2.75" fill="#cc1a3a"/>
<circle cx="340.98" cy="834.1" r="2.75" fill="#cc1a3a"/>
<circle cx="375.9" cy="833.77" r="2.75" fill="#cc1a3a"/>
<circle cx="348.03" cy="839.51" r="2.75" fill="#cc1a3a"/>
<circle cx="354.92" cy="840.66" r="2.75" fill="#cc1a3a"/>
<circle cx="361.97" cy="840.33" r="2.75" fill="#cc1a3a"/>
<circle cx="368.85" cy="839.51" r="2.75" fill="#cc1a3a"/>
<circle cx="358.36" cy="852.95" r="2.75" fill="#cc1a3a"/>
<circle cx="358.36" cy="870.66" r="2.75" fill="#cc1a3a"/>
<circle cx="471.95" cy="806.15" r="2.75" fill="#3a9410"/>
<circle cx="480" cy="807.1" r="2.75" fill="#3a9410"/>
<circle cx="500.12" cy="806.39" r="2.75" fill="#3a9410"/>
<circle cx="492.07" cy="810.53" r="2.75" fill="#3a9410"/>
<circle cx="487.93" cy="817.63" r="2.75" fill="#3a9410"/>
<circle cx="480" cy="823.67" r="2.75" fill="#3a9410"/>
<circle cx="492.07" cy="826.27" r="2.75" fill="#3a9410"/>
<circle cx="476.09" cy="828.4" r="2.75" fill="#3a9410"/>
<circle cx="484.02" cy="832.43" r="2.75" fill="#3a9410"/>
<circle cx="466.63" cy="834.2" r="2.75" fill="#3a9410"/>
<circle cx="501.3" cy="833.73" r="2.75" fill="#3a9410"/>
<circle cx="473.73" cy="839.53" r="2.75" fill="#3a9410"/>
<circle cx="480.59" cy="840.83" r="2.75" fill="#3a9410"/>
<circle cx="487.57" cy="840.24" r="2.75" fill="#3a9410"/>
<circle cx="494.44" cy="839.29" r="2.75" fill="#3a9410"/>
<circle cx="484.02" cy="852.9" r="2.75" fill="#3a9410"/>
<circle cx="484.02" cy="870.65" r="2.75" fill="#3a9410"/>
<circle cx="484.1" cy="661.9" r="2.75" fill="#3a9410"/>
<circle cx="538.68" cy="592.37" r="2.75" fill="#cc1a3a"/>
<circle cx="546.87" cy="593.46" r="2.75" fill="#cc1a3a"/>
<circle cx="555.05" cy="591.69" r="2.75" fill="#cc1a3a"/>
<circle cx="559.01" cy="595.24" r="2.75" fill="#cc1a3a"/>
<circle cx="534.58" cy="599.88" r="2.75" fill="#cc1a3a"/>
<circle cx="542.77" cy="600.97" r="2.75" fill="#cc1a3a"/>
<circle cx="550.82" cy="600.97" r="2.75" fill="#cc1a3a"/>
<circle cx="562.83" cy="604.38" r="2.75" fill="#cc1a3a"/>
<circle cx="530.49" cy="607.52" r="2.75" fill="#cc1a3a"/>
<circle cx="538.68" cy="610.93" r="2.75" fill="#cc1a3a"/>
<circle cx="546.87" cy="611.89" r="2.75" fill="#cc1a3a"/>
<circle cx="555.05" cy="608.89" r="2.75" fill="#cc1a3a"/>
<circle cx="546.87" cy="625.13" r="2.75" fill="#cc1a3a"/>
<line x1="149.4" y1="655" x2="190.7" y2="655" stroke="#000" stroke-width="4.2" stroke-linecap="butt"/>
<line x1="275" y1="629.4" x2="316.4" y2="629.4" stroke="#000" stroke-width="4.2" stroke-linecap="butt"/>
<line x1="337.9" y1="729.7" x2="379.2" y2="729.7" stroke="#000" stroke-width="4.2" stroke-linecap="butt"/>
<line x1="463.3" y1="820.6" x2="504.9" y2="820.6" stroke="#000" stroke-width="4.2" stroke-linecap="butt"/>
<line x1="526" y1="603.4" x2="567.6" y2="603.4" stroke="#000" stroke-width="4.2" stroke-linecap="butt"/>
<polyline points="293.5,573.8 293.5,565.7 357.4,565.7 357.4,573.8" fill="none" stroke="#000" stroke-width="2" stroke-linejoin="miter" stroke-linecap="butt"/>
<text x="286.6" y="560" font-size="17.9" fill="#000">p&lt;0.0001</text>
<polyline points="483.4,649 483.4,566.6 546.9,566.6 546.9,574.4" fill="none" stroke="#000" stroke-width="2" stroke-linejoin="miter" stroke-linecap="butt"/>
<text x="476.3" y="559.8" font-size="17.9" fill="#000">p=0.0001</text>
<text transform="translate(178.2 892) rotate(-90)" font-size="23.3" font-weight="bold" text-anchor="end" fill="#000">All</text>
<text transform="translate(304.7 892) rotate(-90)" font-size="23.3" font-weight="bold" text-anchor="end" fill="#000">Capable</text>
<text transform="translate(367.8 892) rotate(-90)" font-size="23.3" font-weight="bold" text-anchor="end" fill="#000">Resistant</text>
<text transform="translate(492.7 892) rotate(-90)" font-size="23.3" font-weight="bold" text-anchor="end" fill="#000">Dependent</text>
<text transform="translate(555.6 892) rotate(-90)" font-size="23.3" font-weight="bold" text-anchor="end" fill="#000">Independent</text>
<polyline points="279.9,1000 279.9,1004.1 374.7,1004.1 374.7,1000" fill="none" stroke="#000" stroke-width="2.2" stroke-linejoin="miter" stroke-linecap="butt"/>
<text x="326.5" y="1032.6" font-size="23" font-weight="bold" text-anchor="middle" fill="#000">Apoptosis</text>
<polyline points="467.2,1037 467.2,1041.6 562.8,1041.6 562.8,1037" fill="none" stroke="#000" stroke-width="2.2" stroke-linejoin="miter" stroke-linecap="butt"/>
<text x="514.8" y="1066.6" font-size="23" font-weight="bold" text-anchor="middle" fill="#000">Molecular</text>
<text x="515.5" y="1093.2" font-size="23" font-weight="bold" text-anchor="middle" fill="#000">Timer</text>
<text transform="translate(42 736.5) rotate(-90)" font-size="25.1" font-weight="bold" text-anchor="middle" fill="#000">Reduction in C3-</text>
<text transform="translate(70.6 738) rotate(-90)" font-size="25" font-weight="bold" text-anchor="middle" fill="#000">Substrate Cleavage (%)</text>
<line x1="813.5" y1="778.08" x2="821.5" y2="778.08" stroke="#000" stroke-width="3" stroke-linecap="butt"/>
<line x1="1134" y1="778.08" x2="1141.5" y2="778.08" stroke="#000" stroke-width="3" stroke-linecap="butt"/>
<line x1="885.5" y1="842.3" x2="885.5" y2="850.3" stroke="#000" stroke-width="3" stroke-linecap="butt"/>
<line x1="885.5" y1="521.2" x2="885.5" y2="528.7" stroke="#000" stroke-width="3" stroke-linecap="butt"/>
<line x1="813.5" y1="713.86" x2="821.5" y2="713.86" stroke="#000" stroke-width="3" stroke-linecap="butt"/>
<line x1="1134" y1="713.86" x2="1141.5" y2="713.86" stroke="#000" stroke-width="3" stroke-linecap="butt"/>
<line x1="949.5" y1="842.3" x2="949.5" y2="850.3" stroke="#000" stroke-width="3" stroke-linecap="butt"/>
<line x1="949.5" y1="521.2" x2="949.5" y2="528.7" stroke="#000" stroke-width="3" stroke-linecap="butt"/>
<line x1="813.5" y1="649.64" x2="821.5" y2="649.64" stroke="#000" stroke-width="3" stroke-linecap="butt"/>
<line x1="1134" y1="649.64" x2="1141.5" y2="649.64" stroke="#000" stroke-width="3" stroke-linecap="butt"/>
<line x1="1013.5" y1="842.3" x2="1013.5" y2="850.3" stroke="#000" stroke-width="3" stroke-linecap="butt"/>
<line x1="1013.5" y1="521.2" x2="1013.5" y2="528.7" stroke="#000" stroke-width="3" stroke-linecap="butt"/>
<line x1="813.5" y1="585.42" x2="821.5" y2="585.42" stroke="#000" stroke-width="3" stroke-linecap="butt"/>
<line x1="1134" y1="585.42" x2="1141.5" y2="585.42" stroke="#000" stroke-width="3" stroke-linecap="butt"/>
<line x1="1077.5" y1="842.3" x2="1077.5" y2="850.3" stroke="#000" stroke-width="3" stroke-linecap="butt"/>
<line x1="1077.5" y1="521.2" x2="1077.5" y2="528.7" stroke="#000" stroke-width="3" stroke-linecap="butt"/>
<line x1="821.5" y1="519.7" x2="821.5" y2="850.3" stroke="#000" stroke-width="3" stroke-linecap="butt"/>
<line x1="1141.5" y1="519.7" x2="1141.5" y2="850.3" stroke="#000" stroke-width="3" stroke-linecap="butt"/>
<line x1="813.5" y1="521.2" x2="1143" y2="521.2" stroke="#000" stroke-width="3" stroke-linecap="butt"/>
<line x1="813.5" y1="842.3" x2="1143" y2="842.3" stroke="#000" stroke-width="3" stroke-linecap="butt"/>
<text x="812.5" y="849.3" font-size="19.4" font-weight="bold" text-anchor="end" fill="#000">0</text>
<text x="821.5" y="868" font-size="19.4" font-weight="bold" text-anchor="middle" fill="#000">0</text>
<text x="812.5" y="785.08" font-size="19.4" font-weight="bold" text-anchor="end" fill="#000">20</text>
<text x="885.5" y="868" font-size="19.4" font-weight="bold" text-anchor="middle" fill="#000">20</text>
<text x="812.5" y="720.86" font-size="19.4" font-weight="bold" text-anchor="end" fill="#000">40</text>
<text x="949.5" y="868" font-size="19.4" font-weight="bold" text-anchor="middle" fill="#000">40</text>
<text x="812.5" y="656.64" font-size="19.4" font-weight="bold" text-anchor="end" fill="#000">60</text>
<text x="1013.5" y="868" font-size="19.4" font-weight="bold" text-anchor="middle" fill="#000">60</text>
<text x="812.5" y="592.42" font-size="19.4" font-weight="bold" text-anchor="end" fill="#000">80</text>
<text x="1077.5" y="868" font-size="19.4" font-weight="bold" text-anchor="middle" fill="#000">80</text>
<text x="812.5" y="528.2" font-size="19.4" font-weight="bold" text-anchor="end" fill="#000">100</text>
<text x="1141.5" y="868" font-size="19.4" font-weight="bold" text-anchor="middle" fill="#000">100</text>
<text transform="translate(765.2 682.8) rotate(-90)" font-size="21.9" font-weight="bold" text-anchor="middle" fill="#000">True Positive Rate (%)</text>
<text x="981.5" y="908.9" font-size="21.9" font-weight="bold" text-anchor="middle" fill="#000">False Positive Rate (%)</text>
<polyline points="821.5,842.3 821.5,770.5 824.7,770.5 824.7,697 833.2,697 833.2,687 838.4,687 838.4,666.6 845.9,666.6 845.9,635.3 853.7,635.3 853.7,625.3 857.1,625.3 857.1,604.7 860.6,604.7 860.6,594.3 864.2,594.3 864.2,583.5 875.3,583.5 875.3,573.5 903.9,573.5 903.9,563 926.1,563 926.1,552.1 958.1,552.1 958.1,542.1 975.9,542.1 975.9,531.7 1070.1,531.7 1070.1,521.2 1141.5,521.2" fill="none" stroke="#6a4c9f" stroke-width="3.5" stroke-linejoin="round" stroke-linecap="round"/>
<polyline points="821.5,842.3 821.5,812.3 828.3,812.3 828.3,779 834.7,779 834.7,769.7 838.6,769.7 838.6,738.8 842.5,738.8 842.5,707.8 849.4,707.8 849.4,697 853.9,697 853.9,634.9 860.6,634.9 860.6,624.8 867.6,624.8 867.6,606.3 871.5,606.3 871.5,593.9 878.4,593.9 878.4,583.5 886.2,583.5 886.2,573.5 889.2,573.5 889.2,563 914.8,563 914.8,552.1 951.1,552.1 951.1,542.1 969.7,542.1 969.7,531.7 1059.3,531.7 1059.3,521.2 1141.5,521.2" fill="none" stroke="#e07b2a" stroke-width="3.5" stroke-linejoin="round" stroke-linecap="round"/>
<polyline points="821.5,842.3 832.4,842.3 832.4,821.5 842.5,821.5 842.5,780.5 849.9,780.5 849.9,769.7 857.2,769.7 857.2,749.6 864.9,749.6 864.9,738.8 889.7,738.8 889.7,728.7 915.2,728.7 915.2,717.9 926,717.9 926,697.3 933,697.3 933,687 951.3,687 951.3,677.1 958.1,677.1 958.1,666.3 986.6,666.3 986.6,656.1 998.2,656.1 998.2,645.7 1036.9,645.7 1036.9,635.3 1062.4,635.3 1062.4,625.1 1081,625.1 1081,614.8 1088.7,614.8 1088.7,604.7 1091.8,604.7 1091.8,583.8 1102.6,583.8 1102.6,552.1 1105.7,552.1 1105.7,542.1 1120.6,542.1 1120.6,531.7 1139,531.7 1139,521.2 1141.5,521.2" fill="none" stroke="#555555" stroke-width="3.5" stroke-linejoin="round" stroke-linecap="round"/>
<polyline points="821.5,842.3 821.5,718.7 824.7,718.7 824.7,707.5 835.3,707.5 835.3,667.4 839,667.4 839,656.1 857.5,656.1 857.5,624.8 859.9,624.8 859.9,615 864.2,615 864.2,604.4 899.3,604.4 907.8,583.8 914.8,583.8 914.8,573.5 936.4,573.5 941.1,563 986.6,563 986.6,552.1 1016,552.1 1016,542.1 1094.9,542.1 1094.9,531.7 1139,531.7 1139,521.2 1141.5,521.2" fill="none" stroke="#3c9a0c" stroke-width="3.5" stroke-linejoin="round" stroke-linecap="round"/>
<polyline points="821.5,842.3 821.5,811.5 824.7,811.5 824.7,802.2 828.3,802.2 828.3,780.5 843.3,780.5 843.3,739.6 850.2,739.6 850.2,729.2 854.1,729.2 854.1,717.9 868.5,717.9 868.5,707.8 871.7,707.8 871.7,677.4 886.2,677.4 886.2,656.1 893.1,656.1 893.1,625.1 910.9,625.1 910.9,614.8 979.6,614.8 979.6,604.7 983.2,604.7 983.2,593.9 1001.3,593.9 1001.3,583.8 1008.3,583.8 1008.3,573.5 1051.6,573.5 1051.6,563 1062.4,563 1062.4,552.1 1105.7,552.1 1105.7,542.1 1141.5,542.1 1141.5,521.2" fill="none" stroke="#cc1d3d" stroke-width="3.5" stroke-linejoin="round" stroke-linecap="round"/>
<line x1="821.5" y1="842.3" x2="1141.5" y2="521.2" stroke="#000" stroke-width="3.5" stroke-linecap="round" stroke-dasharray="1.6 7.95" stroke-dashoffset="9.5"/>
<line x1="1489.7" y1="786.88" x2="1497.7" y2="786.88" stroke="#000" stroke-width="2.6" stroke-linecap="butt"/>
<line x1="1812" y1="786.88" x2="1819.5" y2="786.88" stroke="#000" stroke-width="2.6" stroke-linecap="butt"/>
<line x1="1562.06" y1="851" x2="1562.06" y2="859" stroke="#000" stroke-width="2.6" stroke-linecap="butt"/>
<line x1="1562.06" y1="530.4" x2="1562.06" y2="537.9" stroke="#000" stroke-width="2.6" stroke-linecap="butt"/>
<line x1="1489.7" y1="722.76" x2="1497.7" y2="722.76" stroke="#000" stroke-width="2.6" stroke-linecap="butt"/>
<line x1="1812" y1="722.76" x2="1819.5" y2="722.76" stroke="#000" stroke-width="2.6" stroke-linecap="butt"/>
<line x1="1626.42" y1="851" x2="1626.42" y2="859" stroke="#000" stroke-width="2.6" stroke-linecap="butt"/>
<line x1="1626.42" y1="530.4" x2="1626.42" y2="537.9" stroke="#000" stroke-width="2.6" stroke-linecap="butt"/>
<line x1="1489.7" y1="658.64" x2="1497.7" y2="658.64" stroke="#000" stroke-width="2.6" stroke-linecap="butt"/>
<line x1="1812" y1="658.64" x2="1819.5" y2="658.64" stroke="#000" stroke-width="2.6" stroke-linecap="butt"/>
<line x1="1690.78" y1="851" x2="1690.78" y2="859" stroke="#000" stroke-width="2.6" stroke-linecap="butt"/>
<line x1="1690.78" y1="530.4" x2="1690.78" y2="537.9" stroke="#000" stroke-width="2.6" stroke-linecap="butt"/>
<line x1="1489.7" y1="594.52" x2="1497.7" y2="594.52" stroke="#000" stroke-width="2.6" stroke-linecap="butt"/>
<line x1="1812" y1="594.52" x2="1819.5" y2="594.52" stroke="#000" stroke-width="2.6" stroke-linecap="butt"/>
<line x1="1755.14" y1="851" x2="1755.14" y2="859" stroke="#000" stroke-width="2.6" stroke-linecap="butt"/>
<line x1="1755.14" y1="530.4" x2="1755.14" y2="537.9" stroke="#000" stroke-width="2.6" stroke-linecap="butt"/>
<line x1="1497.7" y1="529.1" x2="1497.7" y2="859" stroke="#000" stroke-width="2.6" stroke-linecap="butt"/>
<line x1="1819.5" y1="529.1" x2="1819.5" y2="859" stroke="#000" stroke-width="2.6" stroke-linecap="butt"/>
<line x1="1489.7" y1="530.4" x2="1820.8" y2="530.4" stroke="#000" stroke-width="2.6" stroke-linecap="butt"/>
<line x1="1489.7" y1="851" x2="1820.8" y2="851" stroke="#000" stroke-width="2.6" stroke-linecap="butt"/>
<text x="1488.7" y="858" font-size="19.4" font-weight="bold" text-anchor="end" fill="#000">0</text>
<text x="1497.7" y="877.4" font-size="19.4" font-weight="bold" text-anchor="middle" fill="#000">0</text>
<text x="1488.7" y="793.88" font-size="19.4" font-weight="bold" text-anchor="end" fill="#000">20</text>
<text x="1562.06" y="877.4" font-size="19.4" font-weight="bold" text-anchor="middle" fill="#000">20</text>
<text x="1488.7" y="729.76" font-size="19.4" font-weight="bold" text-anchor="end" fill="#000">40</text>
<text x="1626.42" y="877.4" font-size="19.4" font-weight="bold" text-anchor="middle" fill="#000">40</text>
<text x="1488.7" y="665.64" font-size="19.4" font-weight="bold" text-anchor="end" fill="#000">60</text>
<text x="1690.78" y="877.4" font-size="19.4" font-weight="bold" text-anchor="middle" fill="#000">60</text>
<text x="1488.7" y="601.52" font-size="19.4" font-weight="bold" text-anchor="end" fill="#000">80</text>
<text x="1755.14" y="877.4" font-size="19.4" font-weight="bold" text-anchor="middle" fill="#000">80</text>
<text x="1488.7" y="537.4" font-size="19.4" font-weight="bold" text-anchor="end" fill="#000">100</text>
<text x="1819.5" y="877.4" font-size="19.4" font-weight="bold" text-anchor="middle" fill="#000">100</text>
<text transform="translate(1441.5 687.1) rotate(-90)" font-size="21.9" font-weight="bold" text-anchor="middle" fill="#000">True Positive Rate (%)</text>
<text x="1658.6" y="916.8" font-size="21.9" font-weight="bold" text-anchor="middle" fill="#000">False Positive Rate (%)</text>
<polyline points="1497.7,851 1497.7,583.83 1547.21,583.83 1547.21,566.02 1596.72,566.02 1596.72,548.21 1745.24,548.21 1745.24,530.4 1819.5,530.4" fill="none" stroke="#6a4c9f" stroke-width="3" stroke-linejoin="round" stroke-linecap="round"/>
<polyline points="1497.7,851 1497.7,779.76 1571.96,779.76 1571.96,761.94 1621.47,761.94 1621.47,708.51 1646.22,708.51 1646.22,619.46 1695.73,619.46 1695.73,548.21 1720.48,548.21 1720.48,530.4 1819.5,530.4" fill="none" stroke="#e07b2a" stroke-width="3" stroke-linejoin="round" stroke-linecap="round"/>
<polyline points="1497.7,851 1497.7,744.13 1522.45,744.13 1522.45,655.08 1547.21,655.08 1547.21,583.83 1571.96,583.83 1571.96,548.21 1769.99,548.21 1769.99,530.4 1819.5,530.4" fill="none" stroke="#555555" stroke-width="3" stroke-linejoin="round" stroke-linecap="round"/>
<polyline points="1497.7,851 1571.96,851 1571.96,708.51 1621.47,708.51 1621.47,655.08 1646.22,655.08 1646.22,583.83 1670.98,583.83 1670.98,566.02 1720.48,566.02 1720.48,548.21 1819.5,548.21 1819.5,530.4" fill="none" stroke="#3c9a0c" stroke-width="3" stroke-linejoin="round" stroke-linecap="round"/>
<polyline points="1497.7,851 1497.7,655.08 1547.21,655.08 1547.21,637.27 1571.96,637.27 1571.96,583.83 1596.72,583.83 1596.72,566.02 1621.47,566.02 1621.47,530.4 1819.5,530.4" fill="none" stroke="#cc1d3d" stroke-width="3" stroke-linejoin="round" stroke-linecap="round"/>
<line x1="1497.7" y1="851" x2="1819.5" y2="530.4" stroke="#000" stroke-width="3.5" stroke-linecap="round" stroke-dasharray="1.6 7.96" stroke-dashoffset="9.55"/>
<line x1="658.2" y1="939.8" x2="1272.2" y2="939.8" stroke="#000" stroke-width="2.2" stroke-linecap="butt"/>
<line x1="659.7" y1="969.4" x2="1271.2" y2="969.4" stroke="#000" stroke-width="2" stroke-linecap="butt"/>
<line x1="658.2" y1="1059.8" x2="1272.2" y2="1059.8" stroke="#000" stroke-width="2.2" stroke-linecap="butt"/>
<text x="724.5" y="963.7" font-size="24.8" font-weight="bold" fill="#000">Protein</text>
<text x="898.3" y="963.7" font-size="24.8" font-weight="bold" fill="#000">AUC</text>
<text x="1029.7" y="963.7" font-size="24.8" font-weight="bold" fill="#000">Protein</text>
<text x="1216.3" y="963.7" font-size="24.8" font-weight="bold" fill="#000">AUC</text>
<rect x="667.1" y="981.4" width="55.2" height="7.6" fill="#d43a5c"/>
<text x="729.3" y="993.4" font-size="24.8" font-weight="bold" fill="#000">PC9</text>
<text x="899.7" y="993.4" font-size="24.8" fill="#000">0.71</text>
<rect x="667.1" y="1011" width="55.2" height="7.6" fill="#4b9f1d"/>
<text x="729.3" y="1023" font-size="24.8" font-weight="bold" fill="#000">PC3</text>
<text x="899.7" y="1023" font-size="24.8" fill="#000">0.84</text>
<rect x="667.1" y="1040.6" width="55.2" height="7.6" fill="#e8913f"/>
<text x="728.8" y="1052.6" font-size="24.8" font-weight="bold" fill="#000">SMAC</text>
<text x="899.7" y="1052.6" font-size="24.8" fill="#000">0.86</text>
<rect x="979.5" y="981.4" width="54.5" height="7.6" fill="#6a6a6a"/>
<text x="1047.8" y="993.4" font-size="24.8" font-weight="bold" fill="#000">XIAP</text>
<text x="1218" y="993.4" font-size="24.8" fill="#000">0.54</text>
<rect x="979.5" y="1011" width="54.5" height="7.6" fill="#7d5fab"/>
<text x="1047.8" y="1023" font-size="24.8" font-weight="bold" fill="#000">XIAP-SMAC</text>
<text x="1218" y="1023" font-size="24.8" fill="#000">0.89</text>
<line x1="1331.3" y1="939.5" x2="1944" y2="939.5" stroke="#000" stroke-width="2.2" stroke-linecap="butt"/>
<line x1="1332.8" y1="969" x2="1943" y2="969" stroke="#000" stroke-width="2" stroke-linecap="butt"/>
<line x1="1331.3" y1="1059.4" x2="1944" y2="1059.4" stroke="#000" stroke-width="2.2" stroke-linecap="butt"/>
<text x="1397" y="963.7" font-size="24.8" font-weight="bold" fill="#000">Protein</text>
<text x="1570.9" y="963.7" font-size="24.8" font-weight="bold" fill="#000">AUC</text>
<text x="1703.2" y="963.7" font-size="24.8" font-weight="bold" fill="#000">Protein</text>
<text x="1889.3" y="963.7" font-size="24.8" font-weight="bold" fill="#000">AUC</text>
<rect x="1340" y="981.2" width="55.6" height="7.6" fill="#d43a5c"/>
<text x="1401.2" y="993.2" font-size="24.8" font-weight="bold" fill="#000">PC9</text>
<text x="1572" y="993.2" font-size="24.8" fill="#000">0.71</text>
<rect x="1340" y="1010.6" width="55.6" height="7.6" fill="#4b9f1d"/>
<text x="1401.2" y="1022.6" font-size="24.8" font-weight="bold" fill="#000">PC3</text>
<text x="1572" y="1022.6" font-size="24.8" fill="#000">0.61</text>
<text x="1619" y="1010.1" font-size="15" fill="#000">*</text>
<rect x="1340" y="1041" width="55.6" height="7.6" fill="#e8913f"/>
<text x="1400.7" y="1053" font-size="24.8" font-weight="bold" fill="#000">SMAC</text>
<text x="1572" y="1053" font-size="24.8" fill="#000">0.62</text>
<text x="1619" y="1040.5" font-size="15" fill="#000">*</text>
<rect x="1652.3" y="981.2" width="55" height="7.6" fill="#6a6a6a"/>
<text x="1720.2" y="993.2" font-size="24.8" font-weight="bold" fill="#000">XIAP</text>
<text x="1890" y="993.2" font-size="24.8" fill="#000">0.87</text>
<rect x="1652.3" y="1010.6" width="55" height="7.6" fill="#7d5fab"/>
<text x="1720.2" y="1022.6" font-size="24.8" font-weight="bold" fill="#000">XIAP-SMAC</text>
<text x="1890" y="1022.6" font-size="24.8" fill="#000">0.92</text>
<text x="1381.3" y="1084.5" font-size="19" fill="#000">*</text>
<text x="1395.2" y="1091.6" font-size="29.2" fill="#000">p&gt;0.05</text>
</svg></body></html>
